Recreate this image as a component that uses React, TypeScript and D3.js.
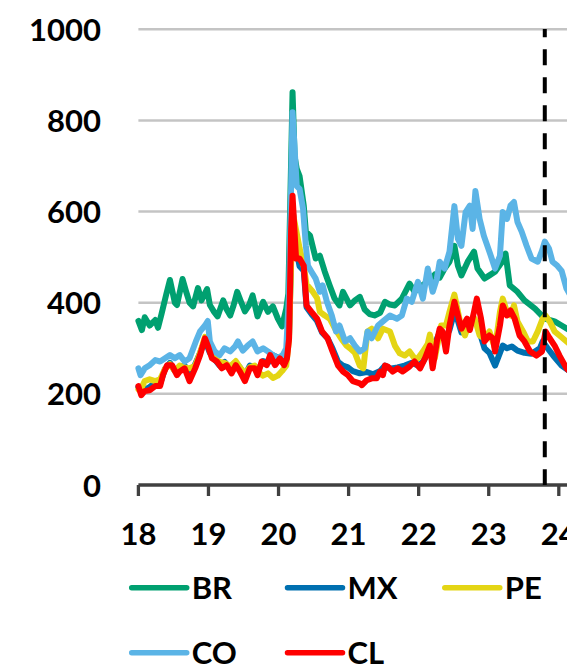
import React from "react";
import * as d3 from "d3";

type Pt = [number, number];

const seriesNames = ["BR", "MX", "PE", "CO", "CL"];
const seriesColors = ["#00A070", "#0070B0", "#E4D514", "#5BB4E6", "#FF0000"];
const yTicks = [0, 200, 400, 600, 800, 1000];
const xTicks = [18, 19, 20, 21, 22, 23, 24];
const markerYear = 23.8;

const BR: Pt[] = [[18.00,360],[18.05,340],[18.09,368],[18.16,350],[18.24,362],[18.28,345],[18.33,375],[18.40,420],[18.45,450],[18.52,400],[18.55,395],[18.60,430],[18.63,452],[18.68,425],[18.73,400],[18.78,392],[18.85,432],[18.90,405],[18.98,430],[19.02,395],[19.08,380],[19.13,370],[19.21,405],[19.26,385],[19.31,372],[19.36,395],[19.41,424],[19.47,400],[19.52,381],[19.58,395],[19.63,416],[19.70,370],[19.78,402],[19.85,380],[19.92,392],[19.99,365],[20.05,348],[20.11,387],[20.14,420],[20.20,862],[20.23,720],[20.26,694],[20.30,678],[20.36,613],[20.39,556],[20.45,547],[20.53,497],[20.59,503],[20.66,468],[20.73,438],[20.80,409],[20.87,394],[20.92,424],[21.02,394],[21.09,405],[21.16,413],[21.23,385],[21.30,375],[21.37,372],[21.45,378],[21.52,402],[21.59,396],[21.66,394],[21.76,409],[21.87,442],[21.94,424],[22.02,435],[22.13,446],[22.23,462],[22.30,455],[22.37,475],[22.44,490],[22.51,525],[22.56,481],[22.61,460],[22.70,490],[22.79,512],[22.84,475],[22.94,453],[23.01,460],[23.09,468],[23.19,490],[23.24,508],[23.30,438],[23.41,424],[23.51,405],[23.66,387],[23.80,365],[23.94,359],[24.04,350],[24.15,340]];

const MX: Pt[] = [[18.00,215],[18.05,205],[18.16,215],[18.24,225],[18.31,222],[18.38,255],[18.45,268],[18.52,250],[18.59,258],[18.66,262],[18.73,240],[18.81,265],[18.88,290],[18.95,318],[19.02,290],[19.09,275],[19.16,262],[19.23,270],[19.31,255],[19.39,268],[19.45,258],[19.52,240],[19.59,262],[19.66,258],[19.70,250],[19.78,272],[19.85,268],[19.92,285],[19.99,280],[20.05,270],[20.11,282],[20.15,330],[20.20,610],[20.25,520],[20.30,480],[20.36,470],[20.40,390],[20.47,375],[20.55,360],[20.62,335],[20.70,322],[20.77,300],[20.85,270],[20.92,262],[20.99,258],[21.06,250],[21.16,245],[21.26,248],[21.35,243],[21.45,250],[21.52,262],[21.59,255],[21.70,258],[21.80,262],[21.90,268],[21.99,262],[22.06,270],[22.16,298],[22.23,310],[22.30,335],[22.37,320],[22.44,340],[22.51,380],[22.56,360],[22.61,335],[22.70,345],[22.79,360],[22.84,355],[22.89,325],[22.94,300],[23.01,290],[23.09,262],[23.16,290],[23.20,306],[23.26,300],[23.33,304],[23.41,295],[23.51,290],[23.61,288],[23.73,300],[23.77,315],[23.84,300],[23.94,280],[24.04,262],[24.15,250]];

const PE: Pt[] = [[18.00,210],[18.05,215],[18.09,228],[18.16,232],[18.24,228],[18.31,232],[18.38,255],[18.45,265],[18.52,250],[18.59,262],[18.66,258],[18.73,256],[18.81,262],[18.88,290],[18.95,325],[19.02,300],[19.09,278],[19.16,270],[19.23,268],[19.31,260],[19.39,272],[19.45,258],[19.52,245],[19.59,258],[19.66,262],[19.70,248],[19.78,240],[19.85,245],[19.92,235],[19.99,240],[20.05,250],[20.11,262],[20.15,320],[20.20,600],[20.25,560],[20.30,520],[20.36,480],[20.40,440],[20.49,424],[20.55,410],[20.59,380],[20.66,372],[20.73,365],[20.80,345],[20.83,337],[20.90,320],[20.97,306],[21.02,300],[21.09,290],[21.16,262],[21.21,256],[21.27,337],[21.33,343],[21.42,322],[21.49,343],[21.59,337],[21.66,306],[21.73,289],[21.80,284],[21.87,293],[21.94,278],[21.99,278],[22.06,293],[22.13,310],[22.16,330],[22.23,278],[22.32,350],[22.39,350],[22.44,380],[22.51,418],[22.59,359],[22.66,328],[22.73,359],[22.80,365],[22.87,328],[22.94,322],[23.01,337],[23.09,300],[23.16,380],[23.20,409],[23.26,380],[23.31,372],[23.36,394],[23.41,359],[23.49,337],[23.56,315],[23.63,315],[23.70,337],[23.77,365],[23.81,372],[23.87,359],[23.94,337],[24.01,328],[24.15,310]];

const CO: Pt[] = [[18.00,256],[18.03,241],[18.09,256],[18.16,263],[18.24,274],[18.31,271],[18.38,278],[18.45,285],[18.52,278],[18.59,285],[18.66,271],[18.73,278],[18.82,315],[18.88,337],[18.95,350],[18.99,360],[19.02,315],[19.09,293],[19.16,285],[19.23,300],[19.31,293],[19.38,304],[19.42,315],[19.49,295],[19.56,306],[19.63,315],[19.70,293],[19.78,300],[19.85,293],[19.92,285],[19.99,278],[20.06,285],[20.11,300],[20.15,420],[20.20,818],[20.26,656],[20.30,650],[20.35,606],[20.39,525],[20.42,481],[20.47,468],[20.53,453],[20.59,424],[20.63,438],[20.69,402],[20.76,372],[20.82,337],[20.87,350],[20.95,315],[21.02,322],[21.09,306],[21.16,293],[21.23,300],[21.27,337],[21.33,322],[21.42,350],[21.49,359],[21.59,372],[21.69,365],[21.76,372],[21.83,409],[21.90,402],[21.99,446],[22.06,409],[22.13,475],[22.20,424],[22.26,453],[22.30,490],[22.37,475],[22.44,512],[22.51,612],[22.56,540],[22.61,525],[22.67,599],[22.73,613],[22.77,562],[22.81,645],[22.87,584],[22.93,547],[23.01,512],[23.09,475],[23.16,503],[23.20,599],[23.26,584],[23.31,613],[23.36,621],[23.41,577],[23.47,556],[23.54,525],[23.61,497],[23.70,490],[23.76,514],[23.80,534],[23.86,519],[23.91,490],[23.98,481],[24.04,470],[24.11,431],[24.15,420]];

const CL: Pt[] = [[18.00,217],[18.04,197],[18.09,206],[18.16,208],[18.24,217],[18.31,217],[18.35,241],[18.41,263],[18.48,263],[18.55,241],[18.59,249],[18.66,256],[18.73,228],[18.81,256],[18.88,285],[18.95,322],[18.99,306],[19.05,278],[19.12,271],[19.19,256],[19.26,263],[19.33,245],[19.39,263],[19.45,249],[19.52,228],[19.59,256],[19.66,256],[19.70,241],[19.76,271],[19.83,263],[19.88,285],[19.95,263],[20.02,278],[20.08,263],[20.12,278],[20.15,320],[20.18,562],[20.20,635],[20.25,497],[20.30,497],[20.36,481],[20.40,394],[20.47,380],[20.55,365],[20.62,337],[20.70,322],[20.77,293],[20.85,262],[20.92,249],[20.99,241],[21.06,228],[21.16,223],[21.19,219],[21.26,230],[21.33,234],[21.40,234],[21.45,249],[21.49,241],[21.52,262],[21.56,260],[21.63,249],[21.70,256],[21.77,249],[21.87,260],[21.94,271],[22.02,256],[22.09,278],[22.16,306],[22.20,256],[22.26,315],[22.30,343],[22.34,337],[22.39,293],[22.44,350],[22.51,402],[22.56,372],[22.61,343],[22.69,365],[22.73,340],[22.79,380],[22.83,409],[22.89,365],[22.94,315],[23.01,328],[23.06,322],[23.09,293],[23.16,350],[23.20,394],[23.26,372],[23.31,383],[23.37,365],[23.44,328],[23.51,315],[23.59,293],[23.68,284],[23.76,293],[23.81,337],[23.87,322],[23.94,306],[24.01,284],[24.11,256],[24.15,250]];

const seriesData: Pt[][] = [BR, MX, PE, CO, CL];

const W = 567;
const H = 665;
const FONT = "Lato, 'Open Sans', sans-serif";

export default function App() {
  const x = d3.scaleLinear().domain([18, 24]).range([138.4, 558.8]);
  const y = d3.scaleLinear().domain([0, 1000]).range([485, 29.3]);
  const line = d3
    .line<Pt>()
    .x((d) => x(d[0]))
    .y((d) => y(d[1]));

  const legendPos = [
    [131.7, 587.7],
    [287.5, 587.7],
    [444.8, 587.7],
    [131.7, 652.7],
    [287.5, 652.7],
  ];

  return (
    <svg
      width={W}
      height={H}
      style={{ position: "absolute", left: 0, top: 0, background: "#fff" }}
      fontFamily={FONT}
    >
      <defs>
        <clipPath id="plot">
          <rect x={0} y={0} width={W} height={490} />
        </clipPath>
      </defs>
      {yTicks.filter((t) => t > 0).map((t) => (
        <line key={t} x1={x(18)} x2={W} y1={y(t)} y2={y(t)} stroke="#C4C4C4" strokeWidth={2.5} />
      ))}
      {yTicks.map((t) => (
        <text key={t} x={101} y={y(t) + 11.5} textAnchor="end" fontSize={31} fontWeight={700} fill="#000">
          {t}
        </text>
      ))}
      <g clipPath="url(#plot)">
        {seriesData.map((s, i) => (
          <path
            key={seriesNames[i]}
            d={line(s) || ""}
            fill="none"
            stroke={seriesColors[i]}
            strokeWidth={6}
            strokeLinejoin="round"
            strokeLinecap="round"
          />
        ))}
      </g>
      <line x1={x(18)} x2={W} y1={485} y2={485} stroke="#404040" strokeWidth={3.3} />
      {xTicks.map((t) => (
        <g key={t}>
          <line x1={x(t)} x2={x(t)} y1={485} y2={496} stroke="#404040" strokeWidth={3.3} />
          <text x={x(t)} y={545} textAnchor="middle" fontSize={31} fontWeight={700} fill="#000">
            {t}
          </text>
        </g>
      ))}
      <line
        x1={x(markerYear)}
        x2={x(markerYear)}
        y1={29}
        y2={485}
        stroke="#000"
        strokeWidth={4}
        strokeDasharray="16 12"
        strokeDashoffset={7.7}
      />
      {seriesNames.map((n, i) => (
        <g key={n}>
          <line
            x1={legendPos[i][0]}
            x2={legendPos[i][0] + 55}
            y1={legendPos[i][1]}
            y2={legendPos[i][1]}
            stroke={seriesColors[i]}
            strokeWidth={5.5}
            strokeLinecap="round"
          />
          <text x={legendPos[i][0] + 60} y={legendPos[i][1] + 11.3} fontSize={31} fontWeight={700} fill="#000">
            {n}
          </text>
        </g>
      ))}
    </svg>
  );
}
